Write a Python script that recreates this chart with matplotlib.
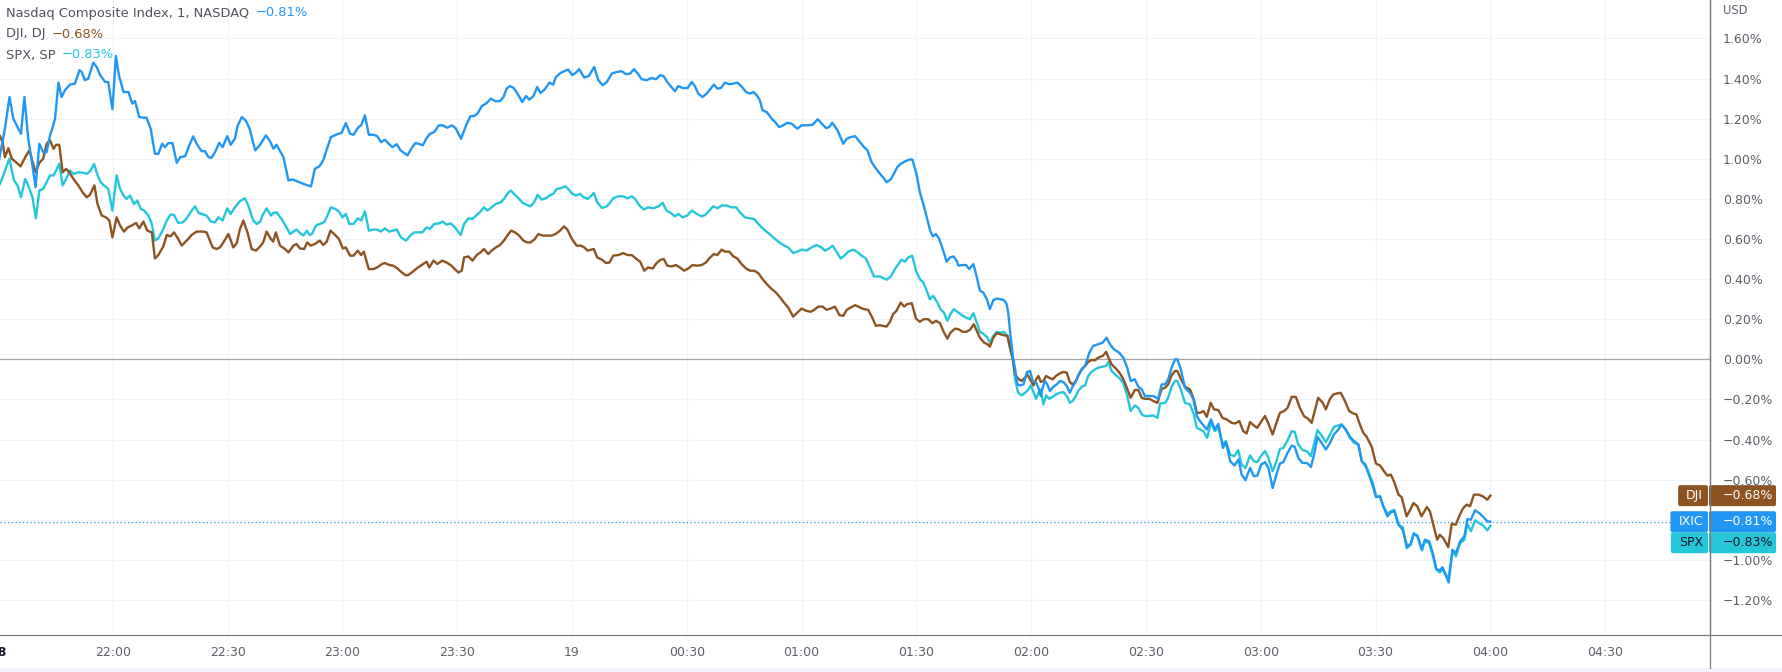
import matplotlib
matplotlib.use("Agg")
import matplotlib.pyplot as plt
from matplotlib.patches import FancyBboxPatch
from matplotlib.transforms import IdentityTransform, blended_transform_factory

# time axis: minutes after the 21:30 session open, values in % change
ixic_t = [0, 1.8, 3.0, 4.0, 5.1, 6.0, 6.9, 7.9, 9.0, 9.8, 10.8, 11.8, 12.7, 13.6, 14.3, 14.9, 15.8, 16.6,
          17.5, 18.8, 20.1, 21.3, 21.9, 22.7, 23.6, 24.9, 25.8, 26.7, 28.0, 28.8, 29.9, 30.8, 31.6, 32.8,
          34.1, 35.1, 35.8, 36.9, 38.0, 38.8, 39.9, 41.0, 41.9, 42.9, 43.6, 44.5, 45.6, 46.7, 47.6, 48.9,
          50.0, 51.0, 51.9, 53.2, 54.1, 55.0, 55.8, 56.7, 57.8, 58.7, 59.9, 60.8, 61.9, 62.6, 63.7, 64.7,
          65.7, 66.3, 67.2, 68.5, 70.0, 71.1, 72.0, 72.8, 74.6, 75.9, 77.0,
          79.8, 81.8, 82.8, 84.0, 85.0, 86.1, 87.0, 88.3, 89.8, 90.9, 92.0, 92.9, 94.2, 94.9, 95.9, 96.9,
          98.1, 99.1, 100.1, 101.1, 102.4, 103.1, 104.2, 105.2, 107.0, 107.9, 109.0, 110.0, 111.0, 112.0,
          112.9, 114.0, 115.2, 116.2, 117.4, 118.6, 119.6, 121.0, 122.5, 123.5, 124.4, 125.3, 126.4, 127.7,
          128.8, 130.0, 131.2, 132.1, 132.9, 133.8, 134.8, 136.0, 137.0, 138.0, 138.8, 139.9, 140.9, 141.8,
          142.9, 144.1, 145.1, 145.8, 147.0, 148.3, 149.0, 150.1, 151.2, 151.9, 153.2, 154.4,
          155.8, 156.9, 158.0, 159.1, 160.4, 161.7, 163.0, 164.1, 165.2, 166.2, 167.2, 168.2, 169.5, 170.8,
          172.0, 173.0, 173.9, 174.9, 176.0, 176.9, 177.8, 178.9, 180.2, 181.3, 182.1, 183.0, 184.1, 185.2,
          186.1, 187.1, 188.0, 188.9, 190.0, 191.1, 192.2, 193.2, 194.2, 195.5, 196.5, 197.4, 198.3, 199.1,
          199.8, 200.9, 202.2, 203.1, 204.1, 205.2, 206.3, 207.4, 208.9, 210.0, 211.3, 212.9, 214.2, 215.3,
          216.4, 217.2, 218.0, 219.4, 220.9, 221.8, 222.8, 224.0, 225.1, 226.1, 227.2, 228.3, 229.5, 230.5,
          231.5, 232.2,
          233.3, 234.1, 235.0, 235.9, 237.0, 238.3, 239.0, 240.1, 240.9, 241.8, 242.7, 243.6, 244.3, 245.1,
          246.0, 247.0, 247.9, 248.8, 249.7, 250.5, 251.0, 252.1, 253.0, 253.8, 254.9, 255.7, 256.6, 257.5,
          258.4, 259.2, 260.1, 261.0, 261.8, 262.9, 263.6,
          264.0, 264.6, 265.2, 265.8, 266.4, 267.1, 268.0, 268.9, 269.7, 270.4, 271.3, 271.9, 272.5, 273.0,
          273.6, 274.2, 274.9, 275.8, 276.7, 277.5, 278.4, 279.3, 280.1, 280.8, 281.5, 282.3, 283.2, 284.1,
          285.2, 286.2, 287.5, 288.7, 289.7, 290.6, 291.6, 293.0, 294.1, 295.1, 296.0, 297.1, 298.0, 298.9,
          299.7, 300.6, 301.9, 303.2, 304.1, 305.0, 305.8, 306.7, 307.6, 308.2, 309.1, 310.2, 311.5, 312.4,
          313.3,
          314.1, 315.9, 317.0, 318.0, 318.9, 320.1, 320.9, 322.0, 323.1, 324.2, 325.0, 326.0, 327.2, 328.2,
          329.1, 330.1, 331.1, 332.0, 333.1, 334.1, 335.0, 335.9, 336.9, 338.1, 338.9, 339.8, 340.9, 342.1,
          343.1, 344.0, 344.8, 345.9, 347.0, 348.1, 349.1, 350.3, 351.1, 352.3, 353.3, 354.4, 355.5, 356.4,
          357.4, 358.4, 359.3, 360.1, 361.2, 362.0, 363.1, 364.0, 364.9, 366.0, 367.1, 368.3, 369.2, 370.0,
          371.0, 372.1, 372.9, 374.0, 374.9, 375.9, 376.8, 377.5, 378.4, 379.1, 380.1, 381.0, 382.1, 383.2,
          384.0, 384.9, 386.0, 387.1, 388.2, 389.2, 390.0]
ixic_v = [0.967, 1.15, 1.308, 1.20, 1.158, 1.125, 1.308, 1.10, 0.967, 0.858, 1.075, 1.033, 1.033, 1.117, 1.158,
          1.20, 1.38, 1.308, 1.342, 1.37, 1.375, 1.442, 1.433, 1.392, 1.40, 1.48, 1.458, 1.417, 1.383, 1.383,
          1.247, 1.513, 1.417, 1.333, 1.333, 1.275, 1.288, 1.208, 1.205, 1.205, 1.15, 1.025, 1.025, 1.075,
          1.058, 1.078, 1.078, 0.98, 1.008, 1.013, 1.067, 1.112, 1.075, 1.038, 1.038, 1.008, 1.005, 1.033,
          1.08, 1.058, 1.113, 1.07, 1.10, 1.163, 1.208, 1.192, 1.153, 1.108, 1.042, 1.07, 1.117, 1.087, 1.05,
          1.07, 1.008, 0.892, 0.897,
          0.875, 0.862, 0.95, 0.963, 0.992, 1.058, 1.108, 1.12, 1.13, 1.178, 1.125, 1.12, 1.158, 1.167, 1.217,
          1.12, 1.12, 1.113, 1.083, 1.095, 1.07, 1.058, 1.073, 1.042, 1.017, 1.047, 1.078, 1.075, 1.067, 1.103,
          1.125, 1.133, 1.167, 1.167, 1.155, 1.167, 1.153, 1.10, 1.175, 1.213, 1.213, 1.225, 1.262, 1.278,
          1.30, 1.287, 1.288, 1.308, 1.35, 1.363, 1.353, 1.317, 1.283, 1.313, 1.295, 1.312, 1.358, 1.328,
          1.347, 1.38, 1.37, 1.408, 1.428, 1.44, 1.445, 1.417, 1.433, 1.447, 1.405, 1.413,
          1.458, 1.392, 1.367, 1.383, 1.425, 1.433, 1.437, 1.422, 1.425, 1.447, 1.425, 1.397, 1.392, 1.403,
          1.397, 1.417, 1.413, 1.383, 1.358, 1.337, 1.363, 1.353, 1.353, 1.383, 1.363, 1.325, 1.308, 1.325,
          1.347, 1.37, 1.35, 1.353, 1.38, 1.372, 1.375, 1.38, 1.363, 1.333, 1.325, 1.333, 1.317, 1.292,
          1.242, 1.233, 1.20, 1.183, 1.158, 1.167, 1.18, 1.175, 1.15, 1.167, 1.167, 1.17, 1.197, 1.175,
          1.153, 1.158, 1.18, 1.142, 1.075, 1.10, 1.108, 1.113, 1.087, 1.063, 1.042, 0.983, 0.95, 0.925,
          0.903, 0.883,
          0.897, 0.925, 0.958, 0.975, 0.987, 0.997, 0.995, 0.917, 0.833, 0.775, 0.708, 0.642, 0.613, 0.625,
          0.60, 0.542, 0.487, 0.508, 0.513, 0.492, 0.467, 0.47, 0.47, 0.45, 0.475, 0.417, 0.342, 0.333,
          0.30, 0.25, 0.295, 0.303, 0.30, 0.295, 0.275,
          0.233, 0.117, 0.017, -0.05, -0.125, -0.13, -0.125, -0.063, -0.058, -0.108, -0.117, -0.142, -0.183,
          -0.142, -0.108, -0.125, -0.158, -0.137, -0.125, -0.108, -0.113, -0.133, -0.167, -0.137, -0.117,
          -0.083, -0.05, -0.033, 0.033, 0.067, 0.075, 0.083, 0.108, 0.075, 0.05, 0.033, 0.008, -0.042, -0.108,
          -0.10, -0.137, -0.15, -0.183, -0.183, -0.183, -0.197, -0.125, -0.125, -0.10, -0.042, 0.0, 0.0,
          -0.05, -0.142, -0.167, -0.20, -0.283,
          -0.308, -0.35, -0.30, -0.35, -0.322, -0.442, -0.413, -0.508, -0.53, -0.50, -0.575, -0.603, -0.542,
          -0.583, -0.58, -0.525, -0.513, -0.542, -0.642, -0.575, -0.52, -0.513, -0.47, -0.43, -0.437, -0.492,
          -0.517, -0.517, -0.537, -0.47, -0.387, -0.417, -0.45, -0.417, -0.375, -0.35, -0.325, -0.353,
          -0.387, -0.408, -0.425, -0.508, -0.533, -0.583, -0.633, -0.687, -0.683, -0.733, -0.783, -0.763,
          -0.758, -0.825, -0.85, -0.937, -0.917, -0.87, -0.88, -0.947, -0.90, -0.908, -0.963, -1.047, -1.053,
          -1.037, -1.08, -1.113, -0.95, -0.967, -0.908, -0.883, -0.797, -0.80, -0.753, -0.767, -0.787,
          -0.808, -0.81]

dji_t = [0.5, 1.2, 1.8, 2.7, 3.6, 4.7, 5.9, 7.1, 8.2, 9.2, 9.8, 10.8, 11.8, 12.7, 13.6, 14.5, 15.2, 16.0,
         16.9, 17.8, 18.6, 19.7, 21.0, 22.1, 23.2, 24.0, 25.2, 26.0, 27.1, 28.2, 29.1, 29.9, 31.0, 31.9,
         32.9, 33.9, 34.9, 36.1, 36.9, 38.0, 39.0, 40.2, 41.0, 41.9, 43.2, 44.1, 45.1, 46.0, 47.1, 48.0,
         49.3, 50.6, 51.9, 53.7, 54.5, 56.1, 57.1, 58.0, 58.9, 60.2, 61.5, 62.4, 63.2, 64.1, 65.2, 66.3,
         67.4, 68.5, 69.3, 70.2, 71.3, 71.9, 72.6, 73.7, 75.0, 75.9,
         77.2, 78.0, 78.9, 80.0, 80.8, 81.7, 82.8, 84.1, 85.0, 85.9, 86.9, 88.1, 89.1, 90.1, 90.9, 92.0,
         92.9, 94.0, 94.9, 95.6, 96.9, 98.1, 99.1, 100.3, 101.1, 102.3, 103.3, 104.4, 105.3, 106.4, 107.2,
         108.4, 109.4, 110.7, 112.0, 112.7, 113.8, 114.8, 116.1, 117.2, 118.3, 119.4, 120.3, 121.2, 121.8,
         122.9, 124.0, 125.1, 126.1, 127.0, 128.1, 129.0, 130.1, 131.2, 132.2, 133.1, 134.1, 135.1, 136.2,
         137.3, 138.3, 139.2, 140.3, 141.2, 142.3, 144.7, 145.7, 146.9, 147.9, 148.8, 149.9, 151.2, 152.3,
         153.2, 154.1,
         155.7, 156.6, 157.8, 158.9, 159.8, 160.8, 162.1, 163.4, 164.5, 165.6, 166.7, 167.8, 168.9, 169.9,
         171.1, 172.1, 173.2, 174.0, 174.9, 176.0, 177.2, 178.2, 179.3, 180.4, 181.5, 182.6, 183.9, 185.0,
         186.1, 187.1, 188.0, 189.1, 190.0, 191.1, 192.2, 193.2, 194.3, 195.5, 196.5, 197.6, 198.7, 199.8,
         200.9, 202.2, 203.3, 204.4, 205.4, 206.5, 207.8, 208.9, 210.0, 211.2, 212.4, 213.3, 214.4, 215.5,
         216.5, 217.6, 218.7, 219.9, 220.9, 221.8, 222.8, 224.0, 225.3, 226.3, 227.4, 228.6, 229.4,
         230.5, 232.2, 233.1, 233.9, 234.8, 235.9, 236.8, 237.6, 238.8, 239.9, 240.9, 241.9, 243.1, 244.2,
         245.1, 246.2, 247.0, 248.1, 248.9, 250.1, 251.0, 252.1, 253.0, 254.0, 255.0, 255.8, 256.6, 257.7,
         258.6, 259.2, 260.1, 261.0, 262.0, 262.9, 263.8, 264.5, 265.2,
         265.8, 266.6, 267.5, 268.4, 269.0, 269.7, 270.6, 271.3, 271.9, 272.5, 273.2, 273.9, 274.7, 275.6,
         276.5, 277.5, 278.4, 279.3, 280.1, 280.8, 281.7, 282.3, 283.2, 284.1, 284.9, 285.8, 286.7, 287.5,
         288.7, 289.6, 290.2, 291.0, 292.2, 293.2, 294.1, 295.1, 296.0, 297.1, 298.0, 298.9, 299.7, 300.9,
         301.9, 303.0, 304.1, 305.0, 305.8, 306.7, 307.6, 308.2, 309.1, 310.2, 311.5, 312.5, 313.3,
         314.1, 315.0, 315.9, 316.9, 317.8, 318.9, 320.0, 321.1, 322.4, 323.3, 324.4, 325.4, 326.3, 327.2,
         328.2, 329.1, 330.2, 331.1, 332.0, 333.1, 334.1, 335.0, 336.1, 337.0, 338.1, 339.2, 340.2, 341.3,
         342.4, 343.3, 344.2, 345.0, 346.2, 347.0, 348.1, 349.0, 350.0, 350.9, 352.0, 353.1, 354.2, 355.0,
         355.9, 356.8, 357.7, 359.0, 360.1, 361.2, 362.2, 363.1, 364.0, 364.9, 366.0, 366.8, 368.1, 369.0,
         369.9, 370.9, 372.0, 373.4, 374.2, 375.1, 376.1, 376.8, 377.7, 379.0, 379.9, 381.0, 381.9, 382.9,
         383.8, 384.7, 385.7, 386.9, 388.0, 389.2, 390.0]
dji_v = [1.113, 1.083, 1.008, 1.053, 1.0, 0.983, 0.962, 1.008, 1.042, 0.975, 0.933, 0.98, 1.0, 1.075, 1.092,
         1.05, 1.07, 1.07, 0.933, 0.95, 0.933, 0.90, 0.867, 0.833, 0.808, 0.82, 0.867, 0.775, 0.717, 0.708,
         0.692, 0.608, 0.708, 0.667, 0.637, 0.658, 0.667, 0.68, 0.653, 0.687, 0.642, 0.633, 0.503, 0.52,
         0.563, 0.62, 0.613, 0.633, 0.60, 0.567, 0.592, 0.62, 0.637, 0.637, 0.633, 0.558, 0.55, 0.558, 0.583,
         0.625, 0.558, 0.58, 0.647, 0.692, 0.633, 0.55, 0.542, 0.563, 0.583, 0.637, 0.60, 0.587, 0.633,
         0.567, 0.55, 0.533,
         0.567, 0.575, 0.553, 0.55, 0.583, 0.567, 0.575, 0.592, 0.57, 0.587, 0.642, 0.62, 0.60, 0.553, 0.558,
         0.517, 0.517, 0.542, 0.52, 0.537, 0.45, 0.45, 0.458, 0.475, 0.48, 0.47, 0.467, 0.453, 0.437, 0.42,
         0.42, 0.437, 0.453, 0.47, 0.487, 0.458, 0.492, 0.475, 0.492, 0.483, 0.47, 0.45, 0.433, 0.442, 0.508,
         0.513, 0.492, 0.52, 0.533, 0.55, 0.525, 0.542, 0.558, 0.57, 0.592, 0.617, 0.642, 0.633, 0.617,
         0.592, 0.583, 0.583, 0.60, 0.625, 0.617, 0.617, 0.625, 0.642, 0.663, 0.647, 0.603, 0.567, 0.567,
         0.558, 0.542,
         0.55, 0.508, 0.497, 0.48, 0.483, 0.517, 0.52, 0.53, 0.52, 0.52, 0.503, 0.487, 0.442, 0.458, 0.453,
         0.48, 0.497, 0.50, 0.467, 0.463, 0.47, 0.458, 0.442, 0.453, 0.47, 0.467, 0.47, 0.483, 0.508, 0.525,
         0.52, 0.547, 0.537, 0.537, 0.513, 0.503, 0.475, 0.453, 0.442, 0.442, 0.43, 0.40, 0.375, 0.35, 0.333,
         0.308, 0.283, 0.258, 0.213, 0.233, 0.253, 0.242, 0.237, 0.247, 0.263, 0.263, 0.247, 0.253, 0.263,
         0.22, 0.217, 0.247, 0.258, 0.27, 0.258, 0.25, 0.247, 0.203, 0.167,
         0.17, 0.163, 0.187, 0.225, 0.242, 0.283, 0.263, 0.275, 0.28, 0.203, 0.187, 0.20, 0.20, 0.18, 0.192,
         0.18, 0.142, 0.103, 0.133, 0.153, 0.15, 0.137, 0.137, 0.147, 0.175, 0.142, 0.108, 0.083, 0.075,
         0.063, 0.108, 0.13, 0.125, 0.12, 0.117, 0.058, 0.0,
         -0.075, -0.097, -0.108, -0.092, -0.075, -0.10, -0.13, -0.10, -0.083, -0.113, -0.108, -0.083, -0.092,
         -0.10, -0.083, -0.07, -0.063, -0.067, -0.113, -0.125, -0.108, -0.08, -0.05, -0.033, -0.013, -0.003,
         -0.005, 0.008, 0.017, 0.037, 0.008, -0.025, -0.047, -0.07, -0.10, -0.147, -0.192, -0.153, -0.153,
         -0.192, -0.197, -0.197, -0.208, -0.217, -0.147, -0.142, -0.125, -0.08, -0.058, -0.058, -0.097,
         -0.137, -0.15, -0.20, -0.267,
         -0.267, -0.258, -0.287, -0.217, -0.25, -0.253, -0.292, -0.30, -0.317, -0.32, -0.308, -0.358, -0.37,
         -0.313, -0.33, -0.342, -0.308, -0.283, -0.32, -0.375, -0.317, -0.267, -0.258, -0.242, -0.187,
         -0.188, -0.242, -0.283, -0.297, -0.317, -0.25, -0.192, -0.217, -0.25, -0.197, -0.175, -0.17, -0.167,
         -0.208, -0.258, -0.27, -0.275, -0.325, -0.367, -0.387, -0.437, -0.52, -0.53, -0.558, -0.58, -0.575,
         -0.613, -0.675, -0.687, -0.783, -0.753, -0.717, -0.733, -0.783, -0.737, -0.758, -0.825, -0.90,
         -0.875, -0.892, -0.937, -0.82, -0.825, -0.78, -0.742, -0.725, -0.733, -0.675, -0.675, -0.683, -0.70,
         -0.68]

spx_t = [0.5, 1.4, 2.3, 3.0, 3.6, 4.2, 5.1, 6.0, 7.1, 7.9, 9.0, 9.9, 10.8, 11.8, 12.7, 13.6, 14.5, 15.2,
         16.0, 16.9, 17.8, 18.8, 19.7, 21.0, 22.3, 23.3, 24.2, 25.1, 25.9, 26.8, 27.7, 28.8, 29.9, 31.0,
         31.9, 32.8, 33.6, 34.5, 35.5, 36.4, 37.3, 38.2, 39.3, 40.2, 41.0, 41.9, 43.2, 44.1, 45.1, 46.0,
         47.1, 48.3, 49.3, 50.6, 51.5, 52.4, 53.2, 54.5, 55.6, 56.7, 57.6, 58.7, 59.9, 60.8, 61.9, 63.2,
         64.5, 65.4, 66.7, 67.6, 68.5, 69.3, 70.2, 71.3, 72.0, 72.8, 74.1, 75.4,
         76.3, 78.0, 78.9, 79.8, 80.7, 81.4, 82.0, 83.1, 84.1, 85.2, 86.1, 87.0, 88.1, 89.1, 90.0, 90.9,
         91.8, 92.9, 94.0, 94.9, 95.9, 96.9, 98.1, 99.1, 100.0, 101.1, 102.2, 103.3, 104.2, 105.3, 106.6,
         107.7, 108.8, 110.9, 112.0, 112.9, 114.0, 115.3, 116.2, 117.2, 118.3, 119.4, 120.9, 121.8, 122.9,
         124.0, 125.1, 126.1, 127.0, 127.9, 129.0, 130.1, 131.4, 132.2, 133.1, 134.0, 135.1, 136.2, 137.1,
         138.2, 139.2, 140.1, 141.0, 142.1, 143.2, 144.1, 145.1, 146.0, 147.1, 148.2, 149.0, 150.1, 151.0,
         152.1, 153.1, 154.1, 155.1,
         155.7, 156.6, 157.8, 159.1, 160.0, 160.8, 162.1, 163.4, 164.5, 165.6, 166.5, 167.6, 168.8, 169.9,
         171.3, 172.6, 173.7, 174.7, 175.8, 176.9, 177.8, 178.9, 180.1, 181.3, 182.6, 183.9, 184.8, 185.9,
         186.9, 188.0, 189.1, 190.4, 191.7, 192.9, 193.9, 195.2, 196.5, 197.6, 198.7, 200.0, 201.3, 202.6,
         203.9, 205.2, 206.5, 207.8, 208.9, 210.0, 211.3, 212.6, 213.9, 215.2, 216.1, 217.2, 218.1, 219.2,
         220.2, 221.2, 222.2, 223.5, 224.4, 225.7, 226.8, 227.9, 228.9,
         230.5, 232.2, 233.3, 234.4, 235.3, 236.1, 237.0, 237.9, 238.9, 239.9, 240.9, 241.8, 242.7, 243.5,
         244.4, 245.5, 246.3, 247.2, 248.1, 248.9, 249.8, 251.0, 252.1, 253.0, 254.0, 254.9, 255.8, 256.6,
         257.7, 258.6, 259.2, 260.1, 261.0, 262.0, 262.9, 263.8, 264.5, 265.2,
         265.8, 266.6, 267.5, 268.4, 269.3, 269.9, 270.6, 271.3, 271.9, 272.5, 273.2, 273.9, 274.7, 275.6,
         276.5, 277.5, 278.4, 279.3, 280.1, 280.8, 281.7, 282.3, 283.2, 284.1, 284.9, 285.8, 286.7, 287.5,
         288.7, 289.6, 290.2, 291.0, 292.2, 293.2, 294.1, 295.1, 296.0, 297.1, 298.0, 298.9, 299.7, 300.6,
         301.9, 303.0, 303.7, 305.0, 305.8, 306.7, 307.6, 308.2, 309.1, 310.2, 311.5, 312.5, 313.3,
         314.1, 315.0, 316.0, 317.0, 318.0, 318.9, 320.1, 320.9, 322.0, 323.1, 324.1, 325.0, 326.0, 327.2,
         328.2, 329.1, 330.1, 331.1, 332.0, 333.1, 334.1, 335.0, 335.9, 336.9, 338.1, 338.9, 339.8, 340.9,
         342.0, 343.1, 344.0, 344.8, 345.9, 347.0, 348.1, 349.1, 350.3, 351.1, 352.3, 353.3, 354.4, 355.5,
         356.4, 357.4, 358.4, 359.3, 360.1, 361.2, 362.0, 363.1, 364.0, 364.9, 366.0, 367.1, 368.1, 369.2,
         370.0, 371.0, 372.1, 372.9, 374.0, 374.9, 375.9, 376.8, 377.5, 378.4, 379.1, 380.1, 381.0, 382.1,
         383.2, 384.0, 384.9, 386.0, 387.1, 388.2, 389.2, 390.0]
spx_v = [0.875, 0.917, 0.967, 1.0, 0.942, 0.892, 0.867, 0.808, 0.90, 0.867, 0.808, 0.703, 0.842, 0.85, 0.883,
         0.917, 0.917, 0.942, 0.975, 0.867, 0.90, 0.942, 0.925, 0.933, 0.93, 0.925, 0.942, 0.975, 0.925,
         0.883, 0.867, 0.85, 0.742, 0.917, 0.85, 0.817, 0.80, 0.817, 0.775, 0.792, 0.75, 0.742, 0.717, 0.675,
         0.592, 0.603, 0.65, 0.692, 0.722, 0.72, 0.68, 0.683, 0.703, 0.742, 0.763, 0.73, 0.725, 0.717, 0.687,
         0.683, 0.708, 0.692, 0.753, 0.725, 0.758, 0.788, 0.803, 0.767, 0.692, 0.675, 0.687, 0.725, 0.753,
         0.717, 0.73, 0.733, 0.70, 0.658,
         0.625, 0.647, 0.63, 0.617, 0.642, 0.62, 0.625, 0.667, 0.675, 0.683, 0.717, 0.758, 0.75, 0.737,
         0.708, 0.725, 0.675, 0.675, 0.703, 0.692, 0.737, 0.642, 0.647, 0.647, 0.637, 0.653, 0.637, 0.642,
         0.647, 0.608, 0.592, 0.617, 0.633, 0.633, 0.658, 0.65, 0.675, 0.678, 0.687, 0.672, 0.678, 0.658,
         0.62, 0.675, 0.703, 0.70, 0.72, 0.737, 0.758, 0.742, 0.758, 0.775, 0.783, 0.80, 0.825, 0.842, 0.82,
         0.80, 0.78, 0.77, 0.763, 0.783, 0.82, 0.797, 0.803, 0.817, 0.825, 0.85, 0.853, 0.863, 0.85, 0.825,
         0.817, 0.825, 0.808, 0.80, 0.817,
         0.83, 0.783, 0.755, 0.763, 0.783, 0.803, 0.813, 0.813, 0.803, 0.813, 0.80, 0.767, 0.747, 0.758,
         0.753, 0.763, 0.78, 0.742, 0.73, 0.713, 0.725, 0.708, 0.717, 0.742, 0.725, 0.713, 0.72, 0.742,
         0.763, 0.753, 0.767, 0.767, 0.758, 0.758, 0.733, 0.708, 0.703, 0.70, 0.675, 0.65, 0.63, 0.608,
         0.587, 0.57, 0.558, 0.53, 0.537, 0.547, 0.542, 0.558, 0.57, 0.558, 0.542, 0.553, 0.567, 0.533,
         0.503, 0.517, 0.537, 0.547, 0.537, 0.517, 0.503, 0.458, 0.413,
         0.413, 0.397, 0.413, 0.45, 0.475, 0.497, 0.487, 0.508, 0.517, 0.442, 0.40, 0.383, 0.342, 0.30,
         0.317, 0.283, 0.25, 0.233, 0.192, 0.225, 0.25, 0.233, 0.217, 0.208, 0.20, 0.23, 0.183, 0.137,
         0.125, 0.108, 0.083, 0.117, 0.137, 0.133, 0.137, 0.117, 0.05, 0.0,
         -0.10, -0.167, -0.18, -0.167, -0.15, -0.13, -0.163, -0.197, -0.167, -0.15, -0.225, -0.18, -0.197,
         -0.187, -0.175, -0.167, -0.163, -0.183, -0.217, -0.208, -0.183, -0.158, -0.137, -0.13, -0.083,
         -0.063, -0.05, -0.042, -0.037, -0.033, -0.013, -0.058, -0.08, -0.097, -0.12, -0.183, -0.258, -0.23,
         -0.242, -0.275, -0.283, -0.283, -0.28, -0.292, -0.22, -0.217, -0.192, -0.137, -0.108, -0.108, -0.15,
         -0.217, -0.225, -0.275, -0.342,
         -0.35, -0.358, -0.392, -0.313, -0.358, -0.342, -0.425, -0.408, -0.475, -0.483, -0.453, -0.525,
         -0.542, -0.48, -0.508, -0.513, -0.48, -0.458, -0.492, -0.558, -0.508, -0.447, -0.442, -0.408,
         -0.358, -0.363, -0.425, -0.453, -0.458, -0.483, -0.417, -0.353, -0.38, -0.413, -0.375, -0.337,
         -0.33, -0.325, -0.353, -0.392, -0.417, -0.425, -0.508, -0.525, -0.575, -0.617, -0.68, -0.687,
         -0.733, -0.77, -0.758, -0.75, -0.825, -0.837, -0.942, -0.925, -0.867, -0.887, -0.953, -0.908,
         -0.917, -0.975, -1.05, -1.063, -1.047, -1.075, -1.092, -0.958, -0.983, -0.917, -0.90, -0.82, -0.858,
         -0.803, -0.817, -0.83, -0.853, -0.83]

x_ticks = [30, 60, 90, 120, 150, 180, 210, 240, 270, 300, 330, 360, 390, 420]
x_labels = ["22:00", "22:30", "23:00", "23:30", "19", "00:30", "01:00", "01:30",
            "02:00", "02:30", "03:00", "03:30", "04:00", "04:30"]
y_ticks = [1.6, 1.4, 1.2, 1.0, 0.8, 0.6, 0.4, 0.2, 0.0, -0.2, -0.4, -0.6, -0.8, -1.0, -1.2]

series = [
    # name, legend title, times, values, colour, text colour on colour
    ("SPX", "SPX, SP", spx_t, spx_v, "#26C6DA", "#131722"),
    ("DJI", "DJI, DJ", dji_t, dji_v, "#8D5320", "white"),
    ("IXIC", "Nasdaq Composite Index, 1, NASDAQ", ixic_t, ixic_v, "#2196F3", "white"),
]

plt.rcParams["font.family"] = ["DejaVu Sans"]

W, H = 1782, 672
AX_R, AX_B = 1710, 635
fig = plt.figure(figsize=(W / 100, H / 100), dpi=100)
ax = fig.add_axes([0, (H - AX_B) / H, AX_R / W, AX_B / H])
ymin, ymax = -1.375, 1.792
ax.set_xlim(0.52, 447.4)
ax.set_ylim(ymin, ymax)

grid_col = "#F0F3FA"
text_col = "#5D606B"
FS = 9.0
for s in ["top", "left", "bottom"]:
    ax.spines[s].set_visible(False)
ax.spines["right"].set_color("#787B86")
ax.spines["right"].set_linewidth(0.9)

ax.set_xticks(x_ticks)
ax.tick_params(axis="x", length=0, labelbottom=False)
ax.yaxis.tick_right()
ax.set_yticks(y_ticks)
ylabels = []
for v in y_ticks:
    s = f"{v:.2f}%"
    ylabels.append(s.replace("-", "\u2212"))
ax.set_yticklabels(ylabels)
ax.tick_params(axis="y", length=0, pad=9.2, labelsize=FS, labelcolor=text_col)
ax.grid(color=grid_col, lw=0.8)
ax.set_axisbelow(True)

ax.axhline(0, color="#A3A6AF", lw=0.9, zorder=1.5)

for z, (name, title, t, v, col, tcol) in enumerate(series):
    ax.plot(t, v, color=col, lw=1.7, zorder=3 + z, solid_joinstyle="round")

# dotted price line of the main symbol
ax.axhline(ixic_v[-1], color="#2196F3", lw=0.9, ls=(0, (1, 2)), zorder=2)

# x labels drawn by hand so the session day number can sit at the left edge
xt = blended_transform_factory(ax.transData, ax.transAxes)
lab_y = -18 / AX_B
for tk, lb in zip(x_ticks, x_labels):
    ax.text(tk, lab_y, lb, transform=xt, ha="center", va="center", fontsize=FS,
            color=text_col, clip_on=False)
ax.text(0, lab_y, "18", transform=xt, ha="center", va="center", fontsize=FS,
        color="#131722", fontweight="bold", clip_on=False)

fig.text((AX_R + 13) / W, 1 - 10 / H, "USD", ha="left", va="center", fontsize=8.3, color=text_col)

# frame lines that run across the label strips
fig.add_artist(plt.Line2D([0, 1], [(H - AX_B) / H] * 2, color="#787B86", lw=0.9))
fig.add_artist(plt.Line2D([AX_R / W] * 2, [4 / H, 1], color="#787B86", lw=0.9))
fig.add_artist(plt.Rectangle((0, 0), 1, 4 / H, color=grid_col, lw=0))

# legend in the top-left corner
leg_y = [13, 34, 55]
order = [series[2], series[1], series[0]]
for yy, (name, title, t, v, col, tcol) in zip(leg_y, order):
    tt = fig.text(6 / W, 1 - yy / H, title, ha="left", va="center", fontsize=9.4, color="#50535E")
    val = f"{v[-1]:.2f}%".replace("-", "\u2212")
    ax.annotate(val, xy=(1, 0.5), xycoords=tt, xytext=(4.5, 0), textcoords="offset points",
                ha="left", va="center", fontsize=9.4, color=col)

# last-value labels on the price scale, pushed apart so they don't overlap
fig.canvas.draw()
renderer = fig.canvas.get_renderer()
box_h = 21
y_last = []
for name, title, t, v, col, tcol in series:
    y_last.append((ax.transData.transform((0, v[-1]))[1], name, v[-1], col, tcol))
y_last.sort(key=lambda r: -r[0])
prev = None
idt = IdentityTransform()
for yd, name, val, col, tcol in y_last:
    if prev is not None and prev - yd < box_h:
        yd = prev - box_h
    prev = yd
    fig.add_artist(FancyBboxPatch((AX_R - 1, yd - box_h / 2), 67, box_h,
                                  boxstyle="round,pad=0,rounding_size=2", fc=col, ec="none",
                                  transform=idt))
    txt = f"{val:.2f}%".replace("-", "\u2212")
    fig.text(AX_R + 13, yd, txt, transform=idt, ha="left", va="center", fontsize=FS, color=tcol)
    nt = fig.text(AX_R - 7, yd, name, transform=idt, ha="right", va="center", fontsize=FS,
                  color=tcol, zorder=5)
    bb = nt.get_window_extent(renderer)
    fig.add_artist(FancyBboxPatch((bb.x0 - 8, yd - box_h / 2), AX_R - 2 - (bb.x0 - 8), box_h,
                                  boxstyle="round,pad=0,rounding_size=2", fc=col, ec="none",
                                  transform=idt, zorder=4))

fig.savefig("out.png", dpi=100, facecolor="white")
